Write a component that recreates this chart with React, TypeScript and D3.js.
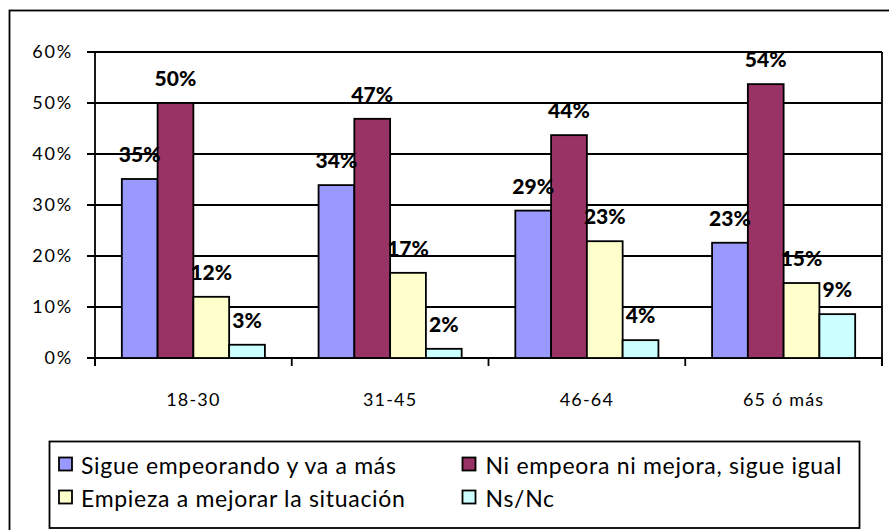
import React from "react";
import * as d3 from "d3";

const categories = ["18-30", "31-45", "46-64", "65 ó más"];
const seriesNames = [
  "Sigue empeorando y va a más",
  "Ni empeora ni mejora, sigue igual",
  "Empieza a mejorar la situación",
  "Ns/Nc",
];
const sigueEmpeorando = [35.1, 33.9, 28.9, 22.6];
const niEmpeora = [50.0, 46.9, 43.7, 53.7];
const empiezaMejorar = [12.0, 16.7, 22.9, 14.7];
const nsNc = [2.6, 1.8, 3.5, 8.6];
const yTicks = [0, 10, 20, 30, 40, 50, 60];
const colors = ["#9999FF", "#993366", "#FFFFCC", "#CCFFFF"];

const seriesValues = [sigueEmpeorando, niEmpeora, empiezaMejorar, nsNc];

const FONT = "Lato, 'Open Sans', sans-serif";

export default function App() {
  const W = 889, H = 530;
  const left = 95, right = 882, top = 52, bottom = 358;
  const SW = 1.8;
  const y = d3.scaleLinear().domain([0, 60]).range([bottom, top]);
  const x0 = d3.scaleBand<string>().domain(categories).range([left, right]).padding(0);
  const x1 = d3
    .scaleBand<number>()
    .domain(d3.range(seriesValues.length))
    .range([0, x0.bandwidth()])
    .paddingInner(0)
    .paddingOuter(0.75);
  const boundaries = [...categories.map((c) => x0(c) as number), right];

  const legendRows = [
    [0, 1],
    [2, 3],
  ];
  const legendColX = [59, 462.5];
  const legendTextX = [81, 485.5];
  const legendRowY = [457.5, 490.5];

  return (
    <svg
      width={W}
      height={H}
      style={{ position: "absolute", left: 0, top: 0, background: "#fff" }}
    >
      <rect x={0} y={0} width={W} height={H} fill="#fff" />
      <rect x={9.5} y={10.5} width={1000} height={1000} fill="none" stroke="#000" strokeWidth={SW} />

      {/* gridlines */}
      {yTicks.map((t) => (
        <line key={"g" + t} x1={87} x2={right} y1={y(t)} y2={y(t)} stroke="#000" strokeWidth={SW} />
      ))}
      {/* plot area sides */}
      <line x1={left} x2={left} y1={top} y2={bottom + 8} stroke="#000" strokeWidth={SW} />
      <line x1={right} x2={right} y1={top} y2={bottom + 8} stroke="#000" strokeWidth={SW} />
      {boundaries.map((b, i) => (
        <line key={"xt" + i} x1={b} x2={b} y1={bottom} y2={bottom + 8} stroke="#000" strokeWidth={SW} />
      ))}

      {/* y labels */}
      {yTicks.map((t) => (
        <text
          key={"yl" + t}
          x={73}
          y={y(t)}
          dy="0.36em"
          textAnchor="end"
          fontFamily={FONT}
          fontSize={18}
          letterSpacing={1.8}
          fill="#000"
        >
          {t + "%"}
        </text>
      ))}

      {/* bars */}
      {categories.map((c, ci) => (
        <g key={c} transform={`translate(${x0(c)},0)`}>
          {seriesValues.map((vals, si) => (
            <rect
              key={si}
              x={x1(si)}
              y={y(vals[ci])}
              width={x1.bandwidth()}
              height={bottom - y(vals[ci])}
              fill={colors[si]}
              stroke="#000"
              strokeWidth={SW}
            />
          ))}
        </g>
      ))}

      {/* data labels */}
      {categories.map((c, ci) =>
        seriesValues.map((vals, si) => (
          <text
            key={c + si}
            x={(x0(c) as number) + (x1(si) as number) + x1.bandwidth() / 2}
            y={y(vals[ci]) - 17}
            textAnchor="middle"
            fontFamily={FONT}
            fontWeight={900}
            fontSize={21}
            fill="#000"
          >
            {Math.round(vals[ci]) + "%"}
          </text>
        ))
      )}

      {/* category labels */}
      {categories.map((c) => (
        <text
          key={"cl" + c}
          x={(x0(c) as number) + x0.bandwidth() / 2}
          y={406}
          textAnchor="middle"
          fontFamily={FONT}
          fontSize={18}
          letterSpacing={1.2}
          fill="#000"
        >
          {c}
        </text>
      ))}

      {/* legend */}
      <rect x={49.5} y={441.5} width={810} height={86.5} fill="#fff" stroke="#000" strokeWidth={SW} />
      {legendRows.map((row, ri) =>
        row.map((si, colI) => (
          <g key={"lg" + si}>
            <rect
              x={legendColX[colI]}
              y={legendRowY[ri]}
              width={13}
              height={13}
              fill={colors[si]}
              stroke="#000"
              strokeWidth={SW}
            />
            <text
              x={legendTextX[colI]}
              y={legendRowY[ri] + 16}
              fontFamily={FONT}
              fontSize={23}
              letterSpacing={0.7}
              fill="#000"
            >
              {seriesNames[si]}
            </text>
          </g>
        ))
      )}
    </svg>
  );
}
